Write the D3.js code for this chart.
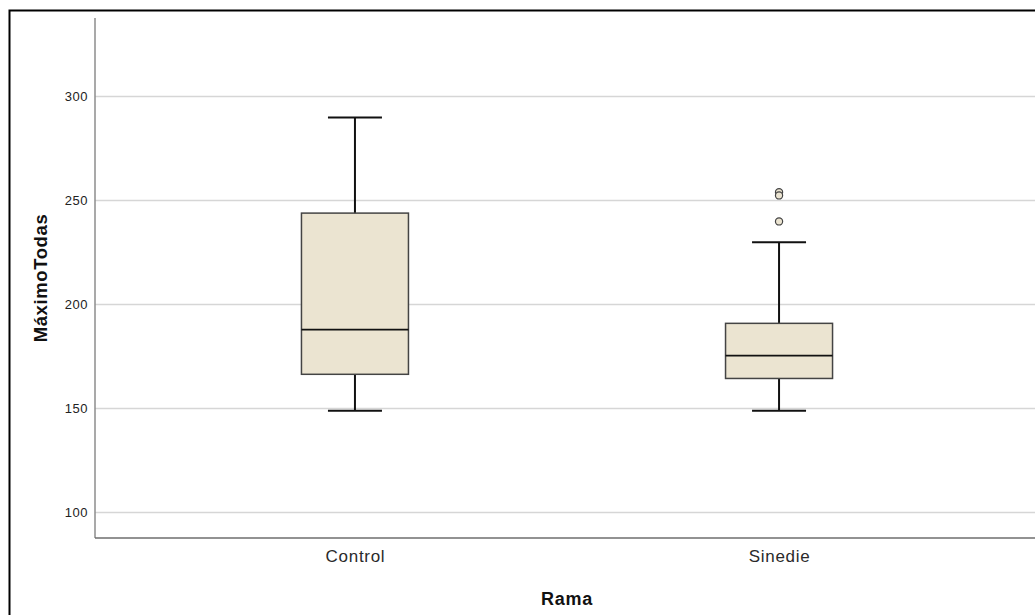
<!DOCTYPE html>
<html>
<head>
<meta charset="utf-8">
<script src="https://cdn.jsdelivr.net/npm/d3@7"></script>
<style>
  html, body { margin: 0; padding: 0; background: #fff; }
  svg { display: block; }
  text { font-family: "Liberation Sans", Arial, sans-serif; }
</style>
</head>
<body>
<svg id="chart" width="1035" height="615"></svg>
<script>
// Groups and their five-number summaries (MáximoTodas by Rama)
const categories = ["Control", "Sinedie"];
const whiskerLow = [149, 149];
const q1 = [166.5, 164.5];
const median = [188, 175.5];
const q3 = [244, 191];
const whiskerHigh = [290, 230];
// Outliers: [group, value]
const outlierGroup = ["Sinedie", "Sinedie", "Sinedie"];
const outlierValue = [254, 252.5, 240];
const yTicks = [100, 150, 200, 250, 300];

(function () {
const svg = d3.select("#chart");
const W = 1035;
const plotLeft = 95, plotRight = 1039, plotTop = 18, plotBottom = 538;

// outer frame
svg.append("rect")
  .attr("x", 9.5).attr("y", 10.5)
  .attr("width", 1100).attr("height", 700)
  .attr("fill", "none").attr("stroke", "#000").attr("stroke-width", 2);

const y = d3.scaleLinear().domain([87.8, 337.8]).range([plotBottom, plotTop]);
const x = d3.scalePoint().domain(categories).range([plotLeft, plotRight]).padding(0.613);

// grid lines
svg.append("g").selectAll("line").data(yTicks).join("line")
  .attr("x1", plotLeft).attr("x2", W)
  .attr("y1", d => y(d)).attr("y2", d => y(d))
  .attr("stroke", "#d6d6d6").attr("stroke-width", 1.5);

// y axis
const yAxis = svg.append("g").attr("transform", `translate(${plotLeft},0)`)
  .call(d3.axisLeft(y).tickValues(yTicks).tickSize(0).tickPadding(7));
yAxis.select(".domain").remove();
yAxis.selectAll("text").attr("font-size", 13).attr("fill", "#222")
  .attr("letter-spacing", 0.5)
  .attr("font-family", "'Liberation Sans', Arial, sans-serif");

// x axis
const xAxis = svg.append("g").attr("transform", `translate(0,${plotBottom})`)
  .call(d3.axisBottom(x).tickSize(0).tickPadding(12));
xAxis.select(".domain").remove();
xAxis.selectAll("text").attr("font-size", 17).attr("fill", "#2a2a2a")
  .attr("letter-spacing", 0.7)
  .attr("font-family", "'Liberation Sans', Arial, sans-serif");

// axis lines
svg.append("line").attr("x1", plotLeft).attr("x2", plotLeft).attr("y1", plotTop).attr("y2", plotBottom)
  .attr("stroke", "#8c8c8c").attr("stroke-width", 1.5);
svg.append("line").attr("x1", plotLeft).attr("x2", W).attr("y1", plotBottom).attr("y2", plotBottom)
  .attr("stroke", "#6e6e6e").attr("stroke-width", 1.5);

// axis titles
svg.append("text")
  .attr("transform", `translate(47,${(plotTop + plotBottom) / 2}) rotate(-90)`)
  .attr("text-anchor", "middle").attr("font-size", 18.5).attr("font-weight", "bold")
  .attr("letter-spacing", 0.6).attr("fill", "#111").text("MáximoTodas");
svg.append("text")
  .attr("x", (plotLeft + plotRight) / 2).attr("y", 605)
  .attr("text-anchor", "middle").attr("font-size", 18).attr("font-weight", "bold")
  .attr("letter-spacing", 0.8).attr("fill", "#111").text("Rama");

// boxes
const boxW = 107, capW = 54;
const g = svg.append("g").selectAll("g").data(categories).join("g");
g.append("line")
  .attr("x1", d => x(d)).attr("x2", d => x(d))
  .attr("y1", (d, i) => y(whiskerHigh[i])).attr("y2", (d, i) => y(whiskerLow[i]))
  .attr("stroke", "#111").attr("stroke-width", 2);
g.append("line")
  .attr("x1", d => x(d) - capW / 2).attr("x2", d => x(d) + capW / 2)
  .attr("y1", (d, i) => y(whiskerHigh[i])).attr("y2", (d, i) => y(whiskerHigh[i]))
  .attr("stroke", "#111").attr("stroke-width", 2);
g.append("line")
  .attr("x1", d => x(d) - capW / 2).attr("x2", d => x(d) + capW / 2)
  .attr("y1", (d, i) => y(whiskerLow[i])).attr("y2", (d, i) => y(whiskerLow[i]))
  .attr("stroke", "#111").attr("stroke-width", 2);
g.append("rect")
  .attr("x", d => x(d) - boxW / 2).attr("width", boxW)
  .attr("y", (d, i) => y(q3[i])).attr("height", (d, i) => y(q1[i]) - y(q3[i]))
  .attr("fill", "#ebe4d1").attr("stroke", "#444").attr("stroke-width", 1.5);
g.append("line")
  .attr("x1", d => x(d) - boxW / 2).attr("x2", d => x(d) + boxW / 2)
  .attr("y1", (d, i) => y(median[i])).attr("y2", (d, i) => y(median[i]))
  .attr("stroke", "#111").attr("stroke-width", 1.6);

// outliers
svg.append("g").selectAll("circle").data(outlierValue).join("circle")
  .attr("cx", (d, i) => x(outlierGroup[i]))
  .attr("cy", d => y(d))
  .attr("r", 3.6)
  .attr("fill", "#ebe4d1").attr("stroke", "#444").attr("stroke-width", 1.2);
})();
</script>
</body>
</html>
